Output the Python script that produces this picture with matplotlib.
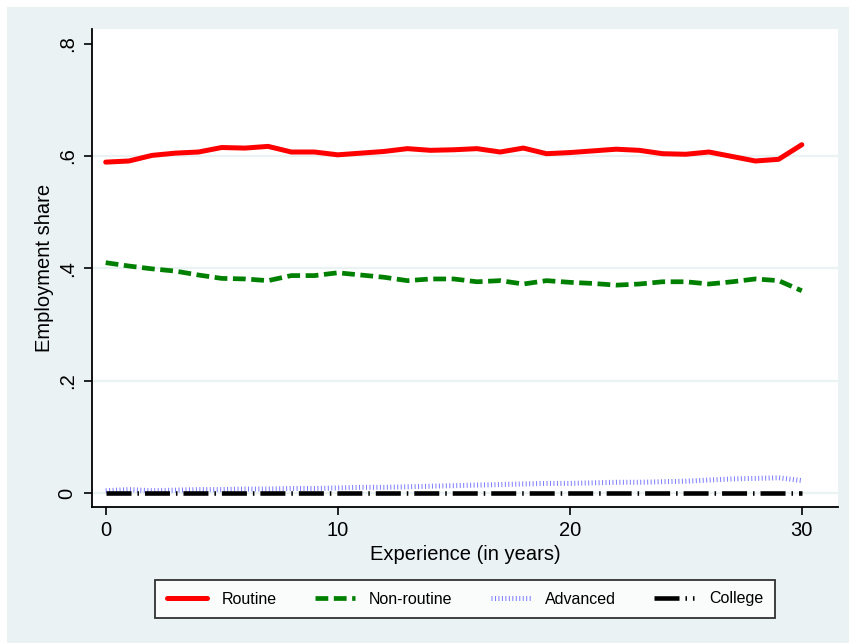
import numpy as np
import matplotlib.pyplot as plt
from matplotlib.patches import Rectangle

plt.rcParams['font.family'] = ['Liberation Sans', 'DejaVu Sans']
plt.rcParams['lines.scale_dashes'] = False

# Данные
experience = np.arange(0, 31)
routine = [0.589, 0.591, 0.601, 0.605, 0.607, 0.615, 0.614, 0.617, 0.607, 0.607,
           0.602, 0.605, 0.608, 0.613, 0.610, 0.611, 0.613, 0.607, 0.614, 0.604,
           0.606, 0.609, 0.612, 0.610, 0.604, 0.603, 0.607, 0.599, 0.591, 0.594,
           0.620]
nonroutine = [0.410, 0.404, 0.399, 0.395, 0.388, 0.382, 0.381, 0.378, 0.387, 0.387,
              0.392, 0.388, 0.384, 0.378, 0.381, 0.381, 0.376, 0.378, 0.372, 0.378,
              0.375, 0.373, 0.370, 0.372, 0.376, 0.376, 0.372, 0.376, 0.381, 0.378,
              0.360]
advanced = [0.004, 0.006, 0.004, 0.005, 0.006, 0.006, 0.007, 0.007, 0.008, 0.008,
            0.009, 0.010, 0.010, 0.011, 0.012, 0.013, 0.014, 0.015, 0.016, 0.017,
            0.017, 0.018, 0.019, 0.019, 0.020, 0.021, 0.023, 0.025, 0.026, 0.027,
            0.022]
college = [0.0] * 31

series_names = ['Routine', 'Non-routine', 'Advanced', 'College']
yticks = [0, 0.2, 0.4, 0.6, 0.8]
ytick_labels = ['0', '.2', '.4', '.6', '.8']
xticks = [0, 10, 20, 30]

bg = '#eaf2f3'
W, H = 849, 643

fig = plt.figure(figsize=(W / 100, H / 100), dpi=100, facecolor='white')
fig.patches.append(Rectangle((7 / W, 0), 1 - 7 / W, 1 - 7 / H, transform=fig.transFigure,
                             facecolor=bg, edgecolor='none', zorder=-10))

ax = fig.add_axes([92 / W, 136 / H, (838 - 92) / W, (507 - 29) / H])
ax.set_facecolor('white')

for v in yticks[:-1]:
    ax.axhline(v, color=bg, lw=1.6, zorder=0)

ax.plot(experience, routine, color='#ff0000', lw=3.6, solid_capstyle='round', label=series_names[0])
ax.plot(experience, nonroutine, color='#008000', lw=3.4, dashes=(9.2, 4.0), label=series_names[1])
ax.plot(experience, advanced, color='#7b7bff', lw=3.6, dashes=(0.7, 1.8),
        dash_capstyle='butt', label=series_names[2])
ax.plot(experience, college, color='black', lw=3.3, dashes=(18.0, 4.3, 1.1, 4.3),
        dash_capstyle='butt', label=series_names[3])

ax.set_xlim(-0.59, 31.56)
ax.set_ylim(-0.025, 0.826)
ax.set_xticks(xticks)
ax.set_yticks(yticks)
ax.set_yticklabels(ytick_labels, rotation=90, va='center')
ax.tick_params(axis='both', labelsize=14.5, length=6, width=1.2, color='black')
ax.tick_params(axis='x', pad=4)
ax.tick_params(axis='y', pad=5)
for side in ['top', 'right']:
    ax.spines[side].set_visible(False)
for side in ['left', 'bottom']:
    ax.spines[side].set_linewidth(1.3)

ax.set_xlabel('Experience (in years)', fontsize=14.5, labelpad=4)
ax.set_ylabel('Employment share', fontsize=14.5, labelpad=3)

leg = fig.legend(loc='center', bbox_to_anchor=(465 / W, 1 - 599 / H), ncol=4,
                 fontsize=11.5, frameon=True, fancybox=False, edgecolor='black',
                 handlelength=2.5, handletextpad=0.9, columnspacing=2.4,
                 borderpad=0.75, borderaxespad=0)
leg.get_frame().set_linewidth(1.3)

fig.savefig('out.png', dpi=100, facecolor=fig.get_facecolor())
